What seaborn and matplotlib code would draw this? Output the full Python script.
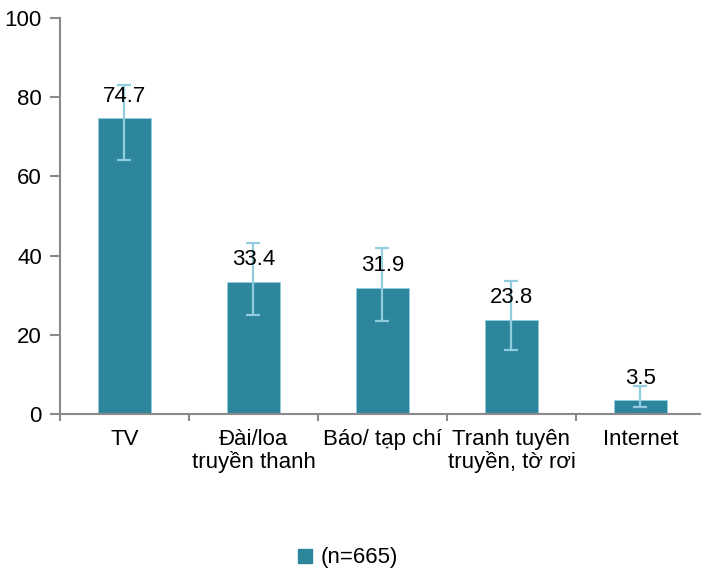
import matplotlib
matplotlib.use("Agg")
import matplotlib.pyplot as plt
import seaborn as sns
import pandas as pd
import numpy as np
from matplotlib.patches import Patch

categories = ["TV", "Đài/loa\ntruyền thanh", "Báo/ tạp chí", "Tranh tuyên\ntruyền, tờ rơi", "Internet"]
values = [74.7, 33.4, 31.9, 23.8, 3.5]
err_low = [64.1, 25.0, 23.5, 16.2, 1.8]
err_high = [83.1, 43.2, 41.9, 33.6, 7.1]
series_name = "(n=665)"

sns.set_theme(style="white")
plt.rcParams["font.family"] = ["Liberation Sans", "DejaVu Sans"]

bar_color = "#2E869D"
err_color = "#92CDDF"
axis_color = "#8A8A8A"
fs = 16

fig = plt.figure(figsize=(7.01, 5.73), dpi=100)
ax = fig.add_axes([60/701, 159/573, 645/701, 396/573])

df = pd.DataFrame({"cat": categories, "val": values})
sns.barplot(data=df, x="cat", y="val", color=bar_color, width=0.41,
            saturation=1, errorbar=None, ax=ax, edgecolor=err_color, linewidth=0.6)

x = np.arange(len(categories))
vals = np.array(values)
yerr = np.vstack([vals - np.array(err_low), np.array(err_high) - vals])
ax.errorbar(x, vals, yerr=yerr, fmt="none", ecolor=err_color, elinewidth=1.6,
            capsize=5, capthick=1.6, zorder=5)

for xi, v in zip(x, values):
    ax.text(xi, v + 5.5, f"{v}", ha="center", va="center", fontsize=fs, color="black", zorder=6)

ax.set_xlim(-0.5, len(categories) - 0.5)
ax.set_ylim(0, 100)
ax.set_yticks([0, 20, 40, 60, 80, 100])
ax.set_xlabel("")
ax.set_ylabel("")
ax.set_xticks(x)
ax.set_xticklabels(categories, fontsize=fs, linespacing=1.05, color="black")
ax.set_xticks(np.arange(len(categories) + 1) - 0.5, minor=True)
ax.tick_params(axis="x", which="major", length=0, pad=11, labelcolor="black")
ax.tick_params(axis="x", which="minor", length=5, width=1.5, color=axis_color, direction="out", bottom=True)
ax.tick_params(axis="y", length=7, width=1.5, color=axis_color, direction="out", labelsize=fs,
               pad=6, left=True, labelcolor="black")

for s in ["top", "right"]:
    ax.spines[s].set_visible(False)
for s in ["left", "bottom"]:
    ax.spines[s].set_color(axis_color)
    ax.spines[s].set_linewidth(1.5)

handles = [Patch(facecolor=bar_color, edgecolor=bar_color, label=series_name)]
fig.legend(handles=handles, loc="center", bbox_to_anchor=(497/1000, 1 - 558/573), frameon=False,
           fontsize=fs, handlelength=0.6, handleheight=0.6, handletextpad=0.42,
           labelcolor="black")

fig.savefig("out.png", dpi=100)
